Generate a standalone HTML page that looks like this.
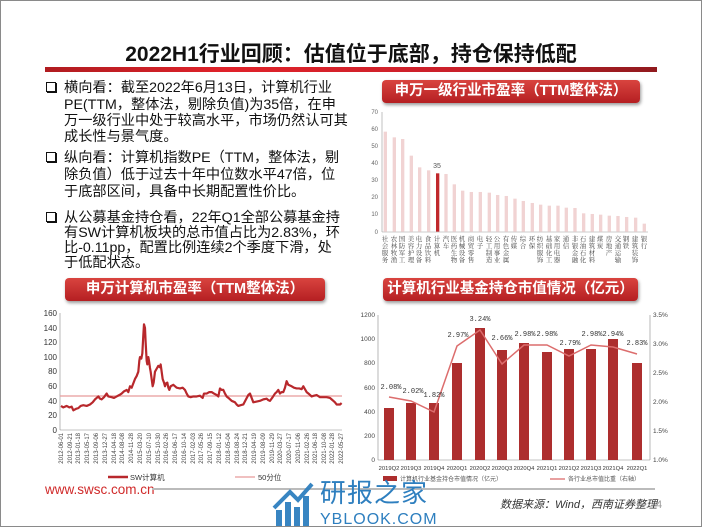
<!DOCTYPE html>
<html><head><meta charset="utf-8"><style>
body{margin:0;width:702px;height:527px;overflow:hidden;background:#fff;font-family:"Liberation Sans","Noto Sans CJK SC",sans-serif}
.frame{position:absolute;left:0;top:0;width:700px;height:525px;border:1px solid #8a8a8a}
.t{position:absolute;white-space:nowrap;font-size:14.2px;color:#111;line-height:16px}
.hd{position:absolute;height:23px;border-radius:4px;background:linear-gradient(#d9443f,#b51f22);color:#fff;font-weight:bold;font-size:14.5px;text-align:center;line-height:23px;box-shadow:1px 2px 3px rgba(0,0,0,.4)}
.bx{position:absolute;width:8px;height:8px;border:1.6px solid #111;box-shadow:1px 1px 0 #111}
</style></head><body>
<div class="frame"></div>
<div style="position:absolute;left:0;top:38px;width:702px;text-align:center;font-size:21px;font-weight:bold;color:#111">2022H1行业回顾：估值位于底部，持仓保持低配</div>
<div style="position:absolute;left:45px;top:67px;width:612px;height:5px;background:linear-gradient(90deg,#b01c20,#e0222a 30%,#c8202a 70%,#901a1e)"></div>

<div class="bx" style="left:46px;top:82px"></div>
<div class="t" style="left:64px;top:80px">横向看：截至2022年6月13日，计算机行业</div>
<div class="t" style="left:64px;top:97px">PE(TTM，整体法，剔除负值)为35倍，在申</div>
<div class="t" style="left:64px;top:113px">万一级行业中处于较高水平，市场仍然认可其</div>
<div class="t" style="left:64px;top:129px">成长性与景气度。</div>
<div class="bx" style="left:46px;top:152px"></div>
<div class="t" style="left:64px;top:150px">纵向看：计算机指数PE（TTM，整体法，剔</div>
<div class="t" style="left:64px;top:167px">除负值）低于过去十年中位数水平47倍，位</div>
<div class="t" style="left:64px;top:184px">于底部区间，具备中长期配置性价比。</div>
<div class="bx" style="left:46px;top:212px"></div>
<div class="t" style="left:64px;top:210px">从公募基金持仓看，22年Q1全部公募基金持</div>
<div class="t" style="left:64px;top:225px">有SW计算机板块的总市值占比为2.83%，环</div>
<div class="t" style="left:64px;top:240px">比-0.11pp，配置比例连续2个季度下滑，处</div>
<div class="t" style="left:64px;top:255px">于低配状态。</div>

<div class="hd" style="left:382px;top:80px;width:258px">申万一级行业市盈率（TTM整体法）</div>
<div class="hd" style="left:65px;top:278px;width:260px">申万计算机市盈率（TTM整体法）</div>
<div class="hd" style="left:383px;top:278px;width:255px">计算机行业基金持仓市值情况（亿元）</div>

<svg width="702" height="527" style="position:absolute;left:0;top:0" font-family="Liberation Sans,Noto Sans CJK SC,sans-serif">
<!-- chart 1 -->
<g font-size="6" fill="#666" text-anchor="end">
<text x="378" y="114">70</text><text x="378" y="131">60</text><text x="378" y="148">50</text><text x="378" y="165">40</text><text x="378" y="182">30</text><text x="378" y="199">20</text><text x="378" y="216">10</text><text x="378" y="234">0</text></g>
<line x1="382" y1="112" x2="382" y2="232" stroke="#999" stroke-width=".6"/>
<line x1="382" y1="232" x2="648" y2="232" stroke="#999" stroke-width=".6"/>
<g transform="translate(370,75) scale(0.3333)" fill="#f1d3d3">
<rect x="41" y="170" width="10" height="300"/><rect x="68" y="187" width="10" height="283"/><rect x="93" y="192" width="10" height="278"/><rect x="119" y="242" width="10" height="228"/><rect x="144" y="277" width="10" height="193"/><rect x="171" y="286" width="10" height="184"/><rect x="198" y="295" width="10" height="175" fill="#c0282c"/><rect x="223" y="297" width="10" height="173"/><rect x="248" y="328" width="10" height="142"/><rect x="273" y="347" width="10" height="123"/><rect x="299" y="351" width="10" height="119"/><rect x="326" y="351" width="10" height="119"/><rect x="353" y="353" width="10" height="117"/><rect x="378" y="360" width="10" height="110"/><rect x="404" y="363" width="10" height="107"/><rect x="430" y="371" width="10" height="99"/><rect x="455" y="378" width="10" height="92"/><rect x="482" y="384" width="10" height="86"/><rect x="507" y="389" width="10" height="81"/><rect x="533" y="392" width="10" height="78"/><rect x="559" y="392" width="10" height="78"/><rect x="584" y="398" width="10" height="72"/><rect x="610" y="399" width="10" height="71"/><rect x="636" y="415" width="10" height="55"/><rect x="662" y="417" width="10" height="53"/><rect x="687" y="419" width="10" height="51"/><rect x="713" y="422" width="10" height="48"/><rect x="739" y="423" width="10" height="47"/><rect x="765" y="426" width="10" height="44"/><rect x="792" y="428" width="10" height="42"/><rect x="818" y="446" width="10" height="24"/>
</g>
<text x="437" y="168" font-size="7" fill="#555" text-anchor="middle">35</text>
<g font-size="6.5" fill="#444" font-family="Noto Serif CJK SC,serif" text-anchor="middle">
<text x="385" y="241"><tspan x="385">社</tspan><tspan x="385" dy="7">会</tspan><tspan x="385" dy="7">服</tspan><tspan x="385" dy="7">务</tspan></text>
<text x="394" y="241"><tspan x="394">农</tspan><tspan x="394" dy="7">林</tspan><tspan x="394" dy="7">牧</tspan><tspan x="394" dy="7">渔</tspan></text>
<text x="402" y="241"><tspan x="402">国</tspan><tspan x="402" dy="7">防</tspan><tspan x="402" dy="7">军</tspan><tspan x="402" dy="7">工</tspan></text>
<text x="411" y="241"><tspan x="411">美</tspan><tspan x="411" dy="7">容</tspan><tspan x="411" dy="7">护</tspan><tspan x="411" dy="7">理</tspan></text>
<text x="419" y="241"><tspan x="419">电</tspan><tspan x="419" dy="7">力</tspan><tspan x="419" dy="7">设</tspan><tspan x="419" dy="7">备</tspan></text>
<text x="428" y="241"><tspan x="428">食</tspan><tspan x="428" dy="7">品</tspan><tspan x="428" dy="7">饮</tspan><tspan x="428" dy="7">料</tspan></text>
<text x="437" y="241"><tspan x="437">计</tspan><tspan x="437" dy="7">算</tspan><tspan x="437" dy="7">机</tspan></text>
<text x="446" y="241"><tspan x="446">汽</tspan><tspan x="446" dy="7">车</tspan></text>
<text x="454" y="241"><tspan x="454">医</tspan><tspan x="454" dy="7">药</tspan><tspan x="454" dy="7">生</tspan><tspan x="454" dy="7">物</tspan></text>
<text x="462" y="241"><tspan x="462">机</tspan><tspan x="462" dy="7">械</tspan><tspan x="462" dy="7">设</tspan><tspan x="462" dy="7">备</tspan></text>
<text x="471" y="241"><tspan x="471">商</tspan><tspan x="471" dy="7">贸</tspan><tspan x="471" dy="7">零</tspan><tspan x="471" dy="7">售</tspan></text>
<text x="480" y="241"><tspan x="480">电</tspan><tspan x="480" dy="7">子</tspan></text>
<text x="489" y="241"><tspan x="489">轻</tspan><tspan x="489" dy="7">工</tspan><tspan x="489" dy="7">制</tspan><tspan x="489" dy="7">造</tspan></text>
<text x="497" y="241"><tspan x="497">公</tspan><tspan x="497" dy="7">用</tspan><tspan x="497" dy="7">事</tspan><tspan x="497" dy="7">业</tspan></text>
<text x="506" y="241"><tspan x="506">有</tspan><tspan x="506" dy="7">色</tspan><tspan x="506" dy="7">金</tspan><tspan x="506" dy="7">属</tspan></text>
<text x="514" y="241"><tspan x="514">传</tspan><tspan x="514" dy="7">媒</tspan></text>
<text x="523" y="241"><tspan x="523">综</tspan><tspan x="523" dy="7">合</tspan></text>
<text x="532" y="241"><tspan x="532">环</tspan><tspan x="532" dy="7">保</tspan></text>
<text x="540" y="241"><tspan x="540">纺</tspan><tspan x="540" dy="7">织</tspan><tspan x="540" dy="7">服</tspan><tspan x="540" dy="7">饰</tspan></text>
<text x="549" y="241"><tspan x="549">基</tspan><tspan x="549" dy="7">础</tspan><tspan x="549" dy="7">化</tspan><tspan x="549" dy="7">工</tspan></text>
<text x="557" y="241"><tspan x="557">家</tspan><tspan x="557" dy="7">用</tspan><tspan x="557" dy="7">电</tspan><tspan x="557" dy="7">器</tspan></text>
<text x="566" y="241"><tspan x="566">通</tspan><tspan x="566" dy="7">信</tspan></text>
<text x="575" y="241"><tspan x="575">非</tspan><tspan x="575" dy="7">银</tspan><tspan x="575" dy="7">金</tspan><tspan x="575" dy="7">融</tspan></text>
<text x="583" y="241"><tspan x="583">石</tspan><tspan x="583" dy="7">油</tspan><tspan x="583" dy="7">石</tspan><tspan x="583" dy="7">化</tspan></text>
<text x="592" y="241"><tspan x="592">建</tspan><tspan x="592" dy="7">筑</tspan><tspan x="592" dy="7">材</tspan><tspan x="592" dy="7">料</tspan></text>
<text x="600" y="241"><tspan x="600">煤</tspan><tspan x="600" dy="7">炭</tspan></text>
<text x="609" y="241"><tspan x="609">房</tspan><tspan x="609" dy="7">地</tspan><tspan x="609" dy="7">产</tspan></text>
<text x="618" y="241"><tspan x="618">交</tspan><tspan x="618" dy="7">通</tspan><tspan x="618" dy="7">运</tspan><tspan x="618" dy="7">输</tspan></text>
<text x="626" y="241"><tspan x="626">钢</tspan><tspan x="626" dy="7">铁</tspan></text>
<text x="635" y="241"><tspan x="635">建</tspan><tspan x="635" dy="7">筑</tspan><tspan x="635" dy="7">装</tspan><tspan x="635" dy="7">饰</tspan></text>
<text x="644" y="241"><tspan x="644">银</tspan><tspan x="644" dy="7">行</tspan></text>
</g>

<!-- chart 2 -->
<g font-size="8" fill="#333" text-anchor="end">
<text x="57" y="316">160</text><text x="57" y="331">140</text><text x="57" y="345">120</text><text x="57" y="360">100</text><text x="57" y="374">80</text><text x="57" y="389">60</text><text x="57" y="404">40</text><text x="57" y="418">20</text><text x="57" y="433">0</text></g>
<line x1="60" y1="313" x2="60" y2="430" stroke="#888" stroke-width=".6"/>
<line x1="60" y1="430" x2="342" y2="430" stroke="#888" stroke-width=".6"/>
<line x1="60" y1="396" x2="342" y2="396" stroke="#e89a9a" stroke-width="1.3"/>
<g transform="translate(30,430) scale(0.3333,-0.729)">
<polyline fill="none" stroke="#b8282c" stroke-width="2.2" vector-effect="non-scaling-stroke" stroke-linejoin="round" points="93,33 100,31 110,33 118,31 125,32 130,27 138,29 145,30 152,33 160,34 170,33 180,35 188,38 195,42 200,44 205,46 210,43 215,42 222,45 230,50 235,46 245,45 252,44 260,46 268,48 275,50 282,53 290,55 295,52 300,60 305,58 315,70 320,74 325,80 328,95 330,100 334,98 337,105 340,130 342,145 345,140 347,120 350,95 352,90 355,100 357,95 360,85 362,80 365,70 368,60 371,65 375,80 380,84 385,88 390,86 392,90 395,80 398,70 402,65 405,60 408,64 412,65 415,58 418,55 422,60 430,62 440,58 450,57 458,58 465,55 470,50 475,46 482,45 490,46 500,46 510,47 518,44 522,50 530,50 538,52 545,52 552,50 560,48 565,46 570,57 575,55 580,55 585,50 590,46 598,43 605,40 610,39 615,38 620,35 625,33 632,34 640,35 648,42 655,48 660,50 665,44 670,38 680,39 690,40 700,42 710,43 715,41 720,40 728,45 735,50 740,52 745,55 750,50 755,52 760,52 765,58 770,67 775,62 785,60 792,58 800,57 808,57 815,56 820,60 825,56 830,52 838,49 845,46 852,47 860,48 870,45 880,45 890,45 900,44 905,42 910,40 915,38 920,35 925,35 930,35 935,37"/>
</g>
<g font-size="6" fill="#444" text-anchor="end">
<text transform="translate(63,433) rotate(-90)">2012-06-01</text><text transform="translate(72,433) rotate(-90)">2012-09-21</text><text transform="translate(80,433) rotate(-90)">2013-01-18</text><text transform="translate(89,433) rotate(-90)">2013-05-17</text><text transform="translate(98,433) rotate(-90)">2013-09-06</text><text transform="translate(107,433) rotate(-90)">2013-12-27</text><text transform="translate(116,433) rotate(-90)">2014-04-18</text><text transform="translate(124,433) rotate(-90)">2014-08-08</text><text transform="translate(133,433) rotate(-90)">2014-11-28</text><text transform="translate(142,433) rotate(-90)">2015-03-20</text><text transform="translate(151,433) rotate(-90)">2015-07-10</text><text transform="translate(160,433) rotate(-90)">2015-10-30</text><text transform="translate(168,433) rotate(-90)">2016-02-26</text><text transform="translate(177,433) rotate(-90)">2016-06-17</text><text transform="translate(186,433) rotate(-90)">2016-10-14</text><text transform="translate(195,433) rotate(-90)">2017-02-03</text><text transform="translate(203,433) rotate(-90)">2017-05-26</text><text transform="translate(212,433) rotate(-90)">2017-09-15</text><text transform="translate(221,433) rotate(-90)">2018-01-12</text><text transform="translate(230,433) rotate(-90)">2018-05-04</text><text transform="translate(239,433) rotate(-90)">2018-08-24</text><text transform="translate(247,433) rotate(-90)">2018-12-21</text><text transform="translate(256,433) rotate(-90)">2019-04-19</text><text transform="translate(265,433) rotate(-90)">2019-08-09</text><text transform="translate(274,433) rotate(-90)">2019-11-29</text><text transform="translate(282,433) rotate(-90)">2020-03-27</text><text transform="translate(291,433) rotate(-90)">2020-07-17</text><text transform="translate(300,433) rotate(-90)">2020-11-06</text><text transform="translate(309,433) rotate(-90)">2021-02-26</text><text transform="translate(317,433) rotate(-90)">2021-06-18</text><text transform="translate(326,433) rotate(-90)">2021-10-08</text><text transform="translate(334,433) rotate(-90)">2022-01-28</text><text transform="translate(343,433) rotate(-90)">2022-05-27</text>
</g>
<line x1="108" y1="477" x2="128" y2="477" stroke="#b8282c" stroke-width="2.5"/>
<text x="130" y="480" font-size="7.5" fill="#333">SW计算机</text>
<line x1="235" y1="477" x2="255" y2="477" stroke="#e89a9a" stroke-width="1.3"/>
<text x="258" y="480" font-size="7.5" fill="#333">50分位</text>

<!-- chart 3 -->
<g font-size="6.5" fill="#444" text-anchor="end">
<text x="375" y="317">1200</text><text x="375" y="341">1000</text><text x="375" y="365">800</text><text x="375" y="390">600</text><text x="375" y="414">400</text><text x="375" y="438">200</text><text x="375" y="462">0</text></g>
<g font-size="6.5" fill="#444">
<text x="653" y="317">3.5%</text><text x="653" y="346">3.0%</text><text x="653" y="375">2.5%</text><text x="653" y="404">2.0%</text><text x="653" y="433">1.5%</text><text x="653" y="462">1.0%</text></g>
<line x1="378" y1="315" x2="378" y2="460" stroke="#888" stroke-width=".6"/>
<line x1="650" y1="315" x2="650" y2="460" stroke="#888" stroke-width=".6"/>
<line x1="378" y1="460" x2="650" y2="460" stroke="#888" stroke-width=".6"/>
<g fill="#ad2e2e">
<rect x="384" y="408" width="10" height="52"/><rect x="406" y="403" width="10" height="57"/><rect x="429" y="403" width="10" height="57"/><rect x="452" y="363" width="10" height="97"/><rect x="475" y="328" width="10" height="132"/><rect x="497" y="350" width="10" height="110"/><rect x="519" y="343" width="10" height="117"/><rect x="542" y="352" width="10" height="108"/><rect x="564" y="349" width="10" height="111"/><rect x="586" y="349" width="10" height="111"/><rect x="608" y="339" width="10" height="121"/><rect x="632" y="363" width="10" height="97"/>
</g>
<polyline fill="none" stroke="#dc6d6d" stroke-width="1.5" points="389,397 411,401 434,412 457,346 480,330 502,364 524,345 547,345 569,356 591,345 613,347 637,354"/>
<g font-size="7" fill="#333" font-family="Liberation Mono,monospace" text-anchor="middle">
<text x="391" y="389">2.08%</text><text x="413" y="393">2.02%</text><text x="434" y="397">1.82%</text><text x="458" y="337">2.97%</text><text x="480" y="321">3.24%</text><text x="502" y="340">2.66%</text><text x="525" y="336">2.98%</text><text x="547" y="336">2.98%</text><text x="570" y="345">2.79%</text><text x="592" y="336">2.98%</text><text x="613" y="336">2.94%</text><text x="637" y="345">2.83%</text>
</g>
<g font-size="5.8" fill="#333" text-anchor="middle">
<text x="389" y="470">2019Q2</text><text x="411" y="470">2019Q3</text><text x="434" y="470">2019Q4</text><text x="457" y="470">2020Q1</text><text x="480" y="470">2020Q2</text><text x="502" y="470">2020Q3</text><text x="524" y="470">2020Q4</text><text x="547" y="470">2021Q1</text><text x="569" y="470">2021Q2</text><text x="591" y="470">2021Q3</text><text x="613" y="470">2021Q4</text><text x="637" y="470">2022Q1</text>
</g>
<rect x="383" y="476" width="14" height="5" fill="#ad2e2e"/>
<text x="400" y="481" font-size="6" fill="#555">计算机行业基金持仓市值情况（亿元）</text>
<line x1="550" y1="479" x2="565" y2="479" stroke="#dc6d6d" stroke-width="1.3"/>
<text x="568" y="481" font-size="6" fill="#555">各行业总市值比重（右轴）</text>

<!-- footer -->
<text x="45" y="494" font-size="13.5" fill="#d02a2a">www.swsc.com.cn</text>
<line x1="152" y1="489" x2="655" y2="489" stroke="#bbb" stroke-width="2"/>
<text x="500" y="508" font-size="11" fill="#333" font-style="italic">数据来源：Wind，西南证券整理</text>
<text x="656" y="508" font-size="11" fill="#999">4</text>
<!-- watermark -->
<g fill="#2e7fbf" opacity="0.95">
<rect x="276" y="510" width="6" height="16"/><rect x="285" y="502" width="6" height="24"/><rect x="294" y="507" width="6" height="19"/><rect x="303" y="496" width="6" height="30"/>
<polyline points="274,508 290,492 298,500 312,484" fill="none" stroke="#2e7fbf" stroke-width="4"/>
</g>
<text x="320" y="502" font-size="26" fill="#2e7fbf" font-family="Noto Sans CJK SC,sans-serif" letter-spacing="1">研报之家</text>
<text x="320" y="524" font-size="16" fill="#2e7fbf" letter-spacing="1">YBLOOK.COM</text>
</svg>
</body></html>
